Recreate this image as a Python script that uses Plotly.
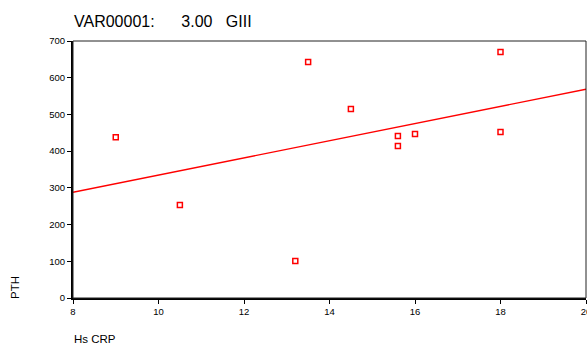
import numpy as np
import plotly.graph_objects as go

hs_crp = [9.0, 10.5, 13.2, 13.5, 14.5, 15.6, 15.6, 16.0, 18.0, 18.0]
pth = [438, 253, 101, 643, 515, 441, 414, 447, 670, 452]
x_ticks = [8, 10, 12, 14, 16, 18, 20]
y_ticks = [0, 100, 200, 300, 400, 500, 600, 700]
x_range = [8, 20]
y_range = [0, 700]

slope, intercept = np.polyfit(hs_crp, pth, 1)
fit_x = np.array(x_range, dtype=float)
fit_y = slope * fit_x + intercept

OFF = 0
W, H = 587, 345
ml, mr, mt, mb = 73, 1, 41, 47
PW, PH = W - ml - mr, H - mt - mb


def px(xp):
    return (xp - OFF - ml) / PW


def py(yp):
    return (H - mb - (yp - OFF)) / PH


fig = go.Figure()
fig.add_trace(go.Scatter(x=fit_x, y=fit_y, mode="lines",
                         line=dict(color="#ff0000", width=1.3), hoverinfo="skip"))
fig.add_trace(go.Scatter(x=hs_crp, y=pth, mode="markers",
                         marker=dict(symbol="square-open", size=5, color="#ff0000",
                                     line=dict(width=1.5, color="#ff0000"))))

fam = "Liberation Sans, Arial, sans-serif"
narrow = "Liberation Sans Narrow, Arial Narrow, Liberation Sans, Arial, sans-serif"

fig.update_layout(
    width=W, height=H, showlegend=False,
    paper_bgcolor="white", plot_bgcolor="white",
    margin=dict(l=ml, r=mr, t=mt, b=mb, pad=0, autoexpand=False),
    font=dict(family=fam, size=10, color="#000000"),
    xaxis=dict(range=x_range, tickvals=x_ticks, showgrid=False, zeroline=False,
               automargin=False, ticklabeloverflow="allow",
               showline=True, linecolor="#000000", linewidth=2,
               ticks="outside", ticklen=4, tickwidth=1, tickcolor="#000000",
               tickfont=dict(family=fam, size=9.5, color="#000000")),
    yaxis=dict(range=y_range, tickvals=y_ticks, showgrid=False, zeroline=False,
               automargin=False, ticklabeloverflow="allow",
               showline=True, linecolor="#000000", linewidth=2,
               ticks="outside", ticklen=4, tickwidth=1, tickcolor="#000000",
               tickfont=dict(family=fam, size=9.5, color="#000000")),
    shapes=[dict(type="rect", xref="paper", yref="paper", x0=0, x1=1, y0=0, y1=1,
                 line=dict(color="#222222", width=1))],
    annotations=[
        dict(text="VAR00001:&nbsp;&nbsp;&nbsp;&nbsp;&nbsp;&nbsp;3.00&nbsp;&nbsp;&nbsp;GIII",
             xref="paper", yref="paper", x=px(72), y=py(21),
             xanchor="left", yanchor="middle", showarrow=False,
             font=dict(family=fam, size=16, color="#000000")),
        dict(text="PTH", xref="paper", yref="paper", x=px(15), y=py(288),
             textangle=-90, xanchor="center", yanchor="middle", showarrow=False,
             font=dict(family=narrow, size=11.5, color="#000000")),
        dict(text="Hs CRP", xref="paper", yref="paper", x=px(72), y=py(339),
             xanchor="left", yanchor="middle", showarrow=False,
             font=dict(family=narrow, size=11.5, color="#000000")),
    ],
)

fig.write_html(
    "out.html",
    config={"displayModeBar": False},
    post_script="document.body.style.margin='0';document.body.style.padding='0';"
                "document.body.style.overflow='hidden';"
                "document.documentElement.style.overflow='hidden';",
)
